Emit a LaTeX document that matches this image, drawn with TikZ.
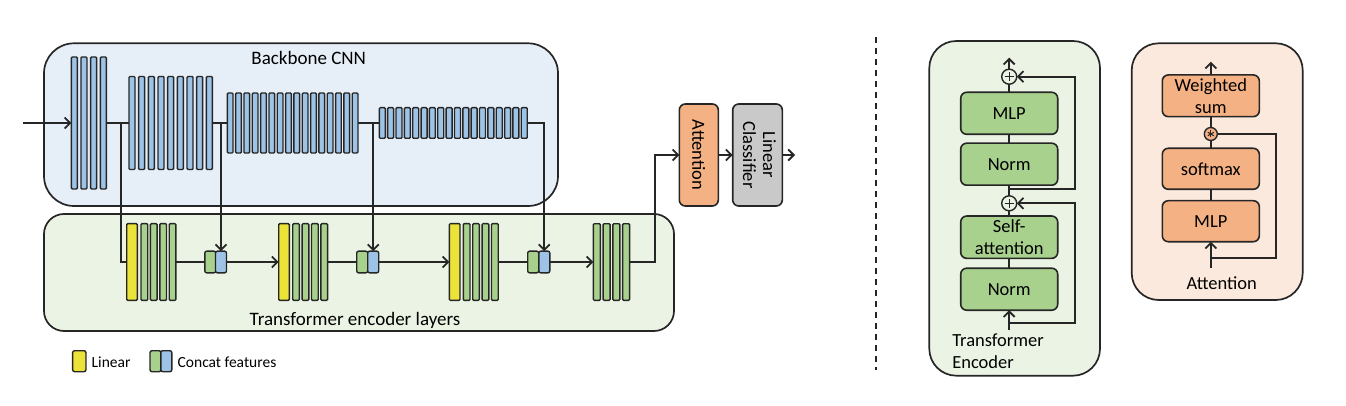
\documentclass[tikz,border=0pt]{standalone}
\usepackage{fontspec}
\usepackage{graphicx}
\setmainfont{Carlito}
\usetikzlibrary{arrows.meta,calc}
\definecolor{bbfill}{HTML}{E6EEF7}
\definecolor{barblue}{HTML}{9DC3E6}
\definecolor{bargreen}{HTML}{A9D18E}
\definecolor{baryellow}{HTML}{EBE23A}
\definecolor{trfill}{HTML}{EBF4E4}
\definecolor{attorange}{HTML}{F4B183}
\definecolor{clsgray}{HTML}{C9C9C9}
\definecolor{attfill}{HTML}{FBE9DD}
\definecolor{linec}{HTML}{262626}
\begin{document}
\begin{tikzpicture}[x=1pt,y=-1pt,
  font=\fontsize{18.5}{22}\selectfont,
  every node/.style={inner sep=0pt, outer sep=0pt},
  conn/.style={draw=linec, line width=1.8pt},
  arr/.style={conn, -{Straight Barb[length=5.5pt,width=11pt]}},
  panel/.style={draw=linec, line width=1.7pt},
  bluebar/.style={draw=linec, fill=barblue, line width=1.4pt, rounded corners=1pt},
  grnbar/.style={draw=linec, fill=bargreen, line width=1.4pt, rounded corners=1pt},
  yelbar/.style={draw=linec, fill=baryellow, line width=1.4pt, rounded corners=1pt},
  halfbox/.style={draw=linec, line width=1.4pt, rounded corners=2pt, minimum width=11, minimum height=21.7},
  bigbox/.style={draw=linec, line width=1.6pt, rounded corners=6pt, align=center},
  gblk/.style={bigbox, fill=bargreen, minimum width=97, minimum height=42},
  oblk/.style={bigbox, fill=attorange, minimum width=97, minimum height=41},
  plusc/.style={circle, draw=linec, line width=1.4pt, minimum size=15,
    path picture={\draw[line width=1.3pt] ([xshift=-4.5pt]path picture bounding box.center) -- ([xshift=4.5pt]path picture bounding box.center);
      \draw[line width=1.3pt] ([yshift=-4.5pt]path picture bounding box.center) -- ([yshift=4.5pt]path picture bounding box.center);}},
  starc/.style={circle, draw=linec, fill=attorange, line width=1.4pt, minimum size=13,
    path picture={\foreach \ang in {90,30,150}{\draw[line width=1pt] ([shift={(\ang:3.5pt)}]path picture bounding box.center) -- ([shift={(\ang+180:3.5pt)}]path picture bounding box.center);}}}
]
\useasboundingbox (0,0) rectangle (1346,406);

% panels
\node[panel, fill=bbfill, rounded corners=30pt, minimum width=514, minimum height=162.7] (bb) at (301,124.65) {};
\node[panel, fill=trfill, rounded corners=20pt, minimum width=630, minimum height=117] (tr) at (359,272.5) {};
\node[anchor=base, font=\fontsize{19}{22}\selectfont] (bbl) at (308.7,65) {Backbone CNN};
\node[anchor=base, font=\fontsize{19}{22}\selectfont] (trl) at (355,325) {Transformer encoder layers};

% backbone bars
\foreach \i in {0,...,3} \node[bluebar, minimum width=6, minimum height=132] (a\i) at ({74.3+9.67*\i},123) {};
\foreach \i in {0,...,8} \node[bluebar, minimum width=6, minimum height=93] (b\i) at ({132+9.67*\i},123) {};
\foreach \i in {0,...,15} \node[bluebar, minimum width=5.7, minimum height=60] (c\i) at ({230.15+8.33*\i},123) {};
\foreach \i in {0,...,17} \node[bluebar, minimum width=6, minimum height=30.6] (d\i) at ({382.3+8.35*\i},123) {};

% transformer layers
\node[yelbar, minimum width=10.6, minimum height=76.7] (y1) at (132,262) {};
\node[yelbar, minimum width=10.6, minimum height=76.7] (y2) at (284,262) {};
\node[yelbar, minimum width=10.6, minimum height=76.7] (y3) at (454.65,262) {};
\foreach \i in {0,...,3} {
  \node[grnbar, minimum width=6.7, minimum height=76.7] (la\i) at ({144.35+9.4*\i},262) {};
  \node[grnbar, minimum width=6.7, minimum height=76.7] (lb\i) at ({296.05+9.4*\i},262) {};
  \node[grnbar, minimum width=6.7, minimum height=76.7] (lc\i) at ({466.65+9.4*\i},262) {};
  \node[grnbar, minimum width=7, minimum height=76.6] (fg\i) at ({596.8+9.77*\i},262) {};
}
\node[halfbox, fill=bargreen] (k1g) at (210.3,262) {};
\node[halfbox, fill=barblue] (k1b) at (221,262) {};
\node[halfbox, fill=bargreen] (k2g) at (362.2,262) {};
\node[halfbox, fill=barblue] (k2b) at (373.2,262) {};
\node[halfbox, fill=bargreen] (k3g) at (533.2,262) {};
\node[halfbox, fill=barblue] (k3b) at (544.3,262) {};

% backbone connectors
\coordinate (in) at (23,123);
\draw[arr] (in) -- (a0.west);
\draw[conn] (a3.east) -- (b0.west);
\draw[conn] (b8.east) -- (c0.west);
\draw[conn] (c15.east) -- (d0.west);
\coordinate (br1) at (121,123);
\coordinate (br2) at (221,123);
\coordinate (br3) at (373.2,123);
\draw[conn] (br1) |- (y1.west);
\draw[arr] (br2) -- (k1b.north);
\draw[arr] (br3) -- (k2b.north);
\draw[arr] (d17.east) -| (k3b.north);

% transformer row connectors
\draw[conn] (la3.east) -- (k1g.west);
\draw[arr] (k1b.east) -- (y2.west);
\draw[conn] (lb3.east) -- (k2g.west);
\draw[arr] (k2b.east) -- (y3.west);
\draw[conn] (lc3.east) -- (k3g.west);
\draw[arr] (k3b.east) -- (fg0.west);

% attention + classifier
\node[bigbox, fill=attorange, minimum width=39, minimum height=102] (att) at (698.8,155) {\rotatebox{-90}{Attention}};
\node[bigbox, fill=clsgray, minimum width=49.6, minimum height=102] (cls) at (757.5,155) {\rotatebox{-90}{\begin{tabular}{@{}c@{}}Linear\\[-2pt]Classifier\end{tabular}}};
\coordinate (turn) at (655,262);
\draw[arr] (fg3.east) -- (turn) |- (att.west);
\draw[arr] (att.east) -- (cls.west);
\coordinate (out) at (795,155);
\draw[arr] (cls.east) -- (out);

% legend
\node[yelbar, minimum width=13.3, minimum height=21, rounded corners=2pt] (legy) at (79.3,361.2) {};
\node[anchor=base west, font=\fontsize{15.5}{18}\selectfont] (legyt) at (91.7,367) {Linear};
\node[halfbox, fill=bargreen, minimum height=21] (legg) at (155.5,361.2) {};
\node[halfbox, fill=barblue, minimum height=21] (legb) at (166.3,361.2) {};
\node[anchor=base west, font=\fontsize{15.5}{18}\selectfont] (legct) at (177.7,367) {Concat features};

% dashed separator
\coordinate (dtop) at (876,37.3);
\coordinate (dbot) at (876,370);
\draw[draw=linec, line width=2pt, dash pattern=on 6pt off 5pt] (dtop) -- (dbot);

% Transformer Encoder panel
\node[panel, fill=trfill, rounded corners=27pt, minimum width=170.7, minimum height=334.7] (tep) at (1014.65,208.35) {};
\node[gblk] (mlp1) at (1009.2,113.3) {MLP};
\node[gblk] (norm1) at (1009.2,164.2) {Norm};
\node[gblk, minimum height=42.3] (sa) at (1009.2,237.2) {Self-\\attention};
\node[gblk] (norm2) at (1009.2,289.2) {Norm};
\node[plusc] (p1) at (1009.2,76.7) {};
\node[plusc] (p2) at (1009.2,203.3) {};
\coordinate (tein) at (1009.2,330);
\draw[arr] (tein) -- (norm2.south);
\draw[conn] (norm2.north) -- (sa.south);
\draw[conn] (sa.north) -- (p2.south);
\draw[conn] (p2.north) -- (norm1.south);
\draw[conn] (norm1.north) -- (mlp1.south);
\draw[conn] (mlp1.north) -- (p1.south);
\coordinate (teout) at (1009.2,57.7);
\draw[arr] (p1.north) -- (teout);
\coordinate (r2s) at (1009.2,323.3);
\coordinate (r2c) at (1075,323.3);
\draw[arr] (r2s) -- (r2c) |- (p2.east);
\coordinate (r1s) at (1009.2,189.3);
\coordinate (r1c) at (1075,189.3);
\draw[arr] (r1s) -- (r1c) |- (p1.east);
\node[anchor=north west, align=left] (tel) at (952.3,334) {Transformer\\Encoder};

% Attention panel
\node[panel, fill=attfill, rounded corners=27pt, minimum width=171, minimum height=256.7] (ap) at (1217.2,171.65) {};
\node[oblk, minimum height=41.7] (ws) at (1210.8,95.8) {Weighted\\sum};
\node[starc] (star) at (1210.8,134) {};
\node[oblk] (sm) at (1210.8,168.8) {softmax};
\node[oblk] (amlp) at (1210.8,221.2) {MLP};
\coordinate (ain) at (1210.8,267.7);
\draw[arr] (ain) -- (amlp.south);
\draw[conn] (amlp.north) -- (sm.south);
\draw[conn] (sm.north) -- (star.south);
\draw[conn] (star.north) -- (ws.south);
\coordinate (aout) at (1210.8,61.7);
\draw[arr] (ws.north) -- (aout);
\coordinate (ars) at (1210.8,257.7);
\coordinate (arc) at (1276,257.7);
\draw[conn] (ars) -- (arc) |- (star.east);
\node[anchor=base] (alab) at (1221.7,289) {Attention};
\end{tikzpicture}
\end{document}
